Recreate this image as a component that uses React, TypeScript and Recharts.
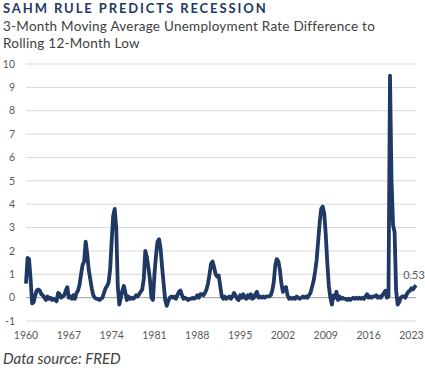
import React from "react";
import {
  LineChart,
  Line,
  XAxis,
  YAxis,
  CartesianGrid,
  ReferenceLine,
} from "recharts";

// quarterly Sahm rule readings
const startYear = 1960;

const sahm1960s = [
  0.6, 1.7, 1.65, 0.8, -0.25, -0.2, 0.1, 0.3, 0.35, 0.3,
  0.15, 0.1, 0.0, -0.1, 0.05, -0.05, 0.0, -0.1, -0.05, -0.1,
  -0.15, 0.2, 0.15, 0.0, 0.05, 0.1, 0.3, 0.45, 0.0, 0.05,
  -0.05, 0.1, -0.05, 0.2, 0.3, 0.55, 1.0, 1.4, 1.55, 2.4,
];
const sahm1970s = [
  1.9, 1.2, 0.8, 0.4, 0.1, 0.0, -0.05, -0.05, -0.1, -0.05,
  0.0, 0.2, 0.4, 0.5, 0.65, 1.2, 2.4, 3.5, 3.8, 3.0,
  0.5, -0.3, 0.0, 0.3, 0.5, 0.2, -0.1, 0.05, -0.05, 0.0,
  -0.05, 0.0, 0.1, 0.05, 0.15, 0.25, 0.35, 0.8, 2.0, 1.75,
];
const sahm1980s = [
  1.3, 0.8, 0.0, -0.1, 1.0, 1.8, 2.4, 2.5, 2.1, 1.3,
  0.6, -0.1, -0.35, -0.15, 0.0, 0.05, 0.0, 0.05, -0.05, 0.1,
  0.25, 0.3, 0.1, -0.05, 0.0, -0.05, -0.1, -0.05, -0.05, 0.0,
  -0.05, 0.0, 0.1, 0.0, 0.15, 0.15, 0.1, 0.2, 0.35, 0.6,
];
const sahm1990s = [
  1.0, 1.45, 1.55, 1.3, 1.0, 0.9, 0.95, 0.5, 0.05, -0.05,
  0.05, -0.05, 0.0, 0.05, -0.05, 0.05, 0.2, 0.1, -0.05, -0.1,
  0.1, 0.0, 0.15, 0.0, -0.05, 0.1, 0.0, 0.15, -0.05, 0.0,
  0.15, 0.25, 0.0, 0.05, 0.0, 0.05, 0.0, 0.05, 0.05, 0.05,
];
const sahm2000s = [
  0.1, 0.3, 0.65, 1.4, 1.65, 1.55, 1.2, 0.6, 0.25, 0.4,
  0.45, 0.1, -0.05, 0.0, -0.05, 0.0, -0.05, 0.05, 0.0, -0.05,
  0.0, 0.05, 0.0, 0.05, 0.0, 0.1, 0.2, 0.45, 0.7, 1.1,
  1.6, 2.4, 3.2, 3.8, 3.9, 3.6, 2.7, 1.5, 0.5, 0.0,
];
const sahm2010s = [
  -0.3, 0.1, 0.0, 0.25, -0.1, 0.05, -0.05, 0.0, -0.05, -0.05,
  -0.1, -0.05, -0.1, -0.05, 0.0, -0.05, 0.0, -0.05, 0.0, -0.05,
  0.0, -0.05, 0.05, 0.15, 0.0, 0.05, 0.0, 0.05, 0.05, 0.1,
  0.0, 0.05, 0.0, 0.1, 0.2, 0.3, 0.0, 0.05, 9.5, 5.0,
];
const sahm2020s = [
  3.1, 2.8, 0.3, -0.3, -0.2, 0.0, 0.05, 0.05, 0.0, 0.15,
  0.25, 0.3, 0.4, 0.35, 0.45, 0.53,
];

const yearTicks = [1960, 1967, 1974, 1981, 1988, 1995, 2002, 2009, 2016, 2023];
const valueTicks = [-1, 0, 1, 2, 3, 4, 5, 6, 7, 8, 9, 10];

const quarterly = [
  ...sahm1960s,
  ...sahm1970s,
  ...sahm1980s,
  ...sahm1990s,
  ...sahm2000s,
  ...sahm2010s,
  ...sahm2020s,
];
const data = quarterly.map((v, i) => ({ t: startYear + i / 4, value: v }));
const lastIndex = data.length - 1;

const FONT = "Lato, 'Open Sans', sans-serif";
const NAVY = "#1f3864";

const EndLabel = (props: any) => {
  const { x, y, index, value } = props;
  if (index !== lastIndex) return null;
  return (
    <text x={x - 2} y={y - 6} textAnchor="middle" fill="#595959" fontSize={11} fontFamily={FONT}>
      {Number(value).toFixed(2)}
    </text>
  );
};

export default function App() {
  return (
    <div
      style={{
        position: "absolute",
        left: 0,
        top: 0,
        width: 425,
        height: 368,
        background: "#ffffff",
        fontFamily: FONT,
      }}
    >
      {/* Titles and source */}
      <svg width={425} height={368} style={{ position: "absolute", left: 0, top: 0 }}>
        <text x={3} y={12.7} fill={NAVY} fontSize={13} fontWeight={700} letterSpacing={1.9} fontFamily={FONT}>
          SAHM RULE PREDICTS RECESSION
        </text>
        <text x={3} y={30.7} fill="#404040" fontSize={13.5} letterSpacing={0.25} fontFamily={FONT}>
          3-Month Moving Average Unemployment Rate Difference to
        </text>
        <text x={3} y={48.3} fill="#404040" fontSize={13.5} letterSpacing={0.25} fontFamily={FONT}>
          Rolling 12-Month Low
        </text>
        <text x={3} y={364.3} fill="#404040" fontSize={15} fontStyle="italic" fontFamily={FONT}>
          Data source: FRED
        </text>
      </svg>

      {/* Chart */}
      <div style={{ position: "absolute", left: 0, top: 0 }}>
        <LineChart
          width={425}
          height={368}
          data={data}
          margin={{ top: 64, right: 9, bottom: 27, left: 0 }}
        >
          <CartesianGrid stroke="#d9d9d9" vertical={false} />
          <XAxis
            dataKey="t"
            type="number"
            domain={[startYear, startYear + lastIndex / 4]}
            ticks={yearTicks}
            interval={0}
            height={20}
            axisLine={false}
            tickLine={false}
            tickMargin={5}
            tick={{ fontSize: 10.5, fill: "#595959", fontFamily: FONT }}
          />
          <YAxis
            type="number"
            domain={[-1, 10]}
            ticks={valueTicks}
            interval={0}
            width={26}
            axisLine={false}
            tickLine={false}
            tickMargin={5}
            tick={{ fontSize: 10.5, fill: "#595959", fontFamily: FONT }}
          />
          <ReferenceLine y={0} stroke="#a6a6a6" strokeWidth={1} />
          <Line
            type="linear"
            dataKey="value"
            stroke={NAVY}
            strokeWidth={3.8}
            strokeLinejoin="round"
            dot={false}
            label={EndLabel}
            isAnimationActive={false}
          />
        </LineChart>
      </div>
    </div>
  );
}
